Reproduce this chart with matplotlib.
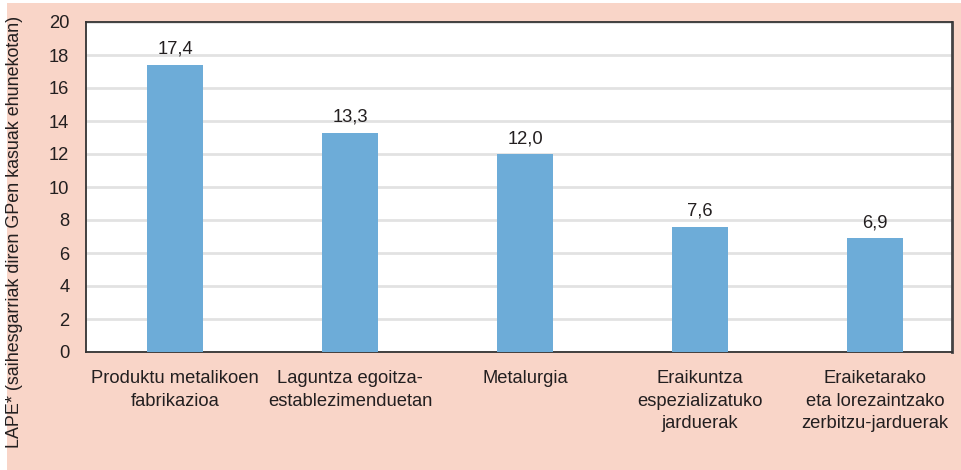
import matplotlib.pyplot as plt
from matplotlib.patches import Rectangle

plt.rcParams["font.family"] = ["Liberation Sans", "DejaVu Sans"]

categories = [
    "Produktu metalikoen\nfabrikazioa",
    "Laguntza egoitza-\nestablezimenduetan",
    "Metalurgia",
    "Eraikuntza\nespezializatuko\njarduerak",
    "Eraiketarako\neta lorezaintzako\nzerbitzu-jarduerak",
]
values = [17.4, 13.3, 12.0, 7.6, 6.9]
value_labels = ["17,4", "13,3", "12,0", "7,6", "6,9"]
y_ticks = [0, 2, 4, 6, 8, 10, 12, 14, 16, 18, 20]
y_label = "LAPE* (saihesgarriak diren GPen kasuak ehunekotan)"

BG = "#f9d5c8"
BAR = "#6dacd8"
TEXT = "#231f20"
GRID = "#e2e2e2"
FS = 13.2

fig = plt.figure(figsize=(9.61, 4.70), dpi=100, facecolor="white")
fig.patches.append(Rectangle((7 / 961, 0), 1 - 7 / 961, 467 / 470,
                             transform=fig.transFigure, facecolor=BG,
                             edgecolor="none", zorder=-10))

ax = fig.add_axes([86 / 961, 118 / 470, (952 - 86) / 961, (352 - 22) / 470])
ax.set_facecolor("white")

x = range(len(categories))
ax.bar(x, values, width=0.32, color=BAR, zorder=3)
for xi, v, lab in zip(x, values, value_labels):
    ax.annotate(lab, (xi, v), xytext=(0, 5), textcoords="offset points",
                ha="center", va="bottom", fontsize=FS, color=TEXT)

# the source chart leaves a bit less room after the last bar
ax.set_xlim(-0.51, 4.44)
ax.set_ylim(0, 20)
ax.set_yticks(y_ticks)
ax.yaxis.grid(True, color=GRID, linewidth=2.0, zorder=0)
ax.set_axisbelow(True)
ax.set_xticks(list(x))
ax.set_xticklabels(categories, fontsize=FS, color=TEXT, linespacing=1.42)
ax.tick_params(axis="x", length=0, pad=13)
ax.tick_params(axis="y", length=0, pad=12, labelsize=FS, labelcolor=TEXT)

for side in ("top", "bottom", "left"):
    ax.spines[side].set_color("#333333")
    ax.spines[side].set_linewidth(1.3)
ax.spines["right"].set_color("#444444")
ax.spines["right"].set_linewidth(2.0)

fig.text(15 / 961, 238 / 470, y_label, rotation=90, ha="center",
         va="center", fontsize=12.9, color=TEXT)

fig.savefig("out.png", dpi=100, facecolor=fig.get_facecolor())
